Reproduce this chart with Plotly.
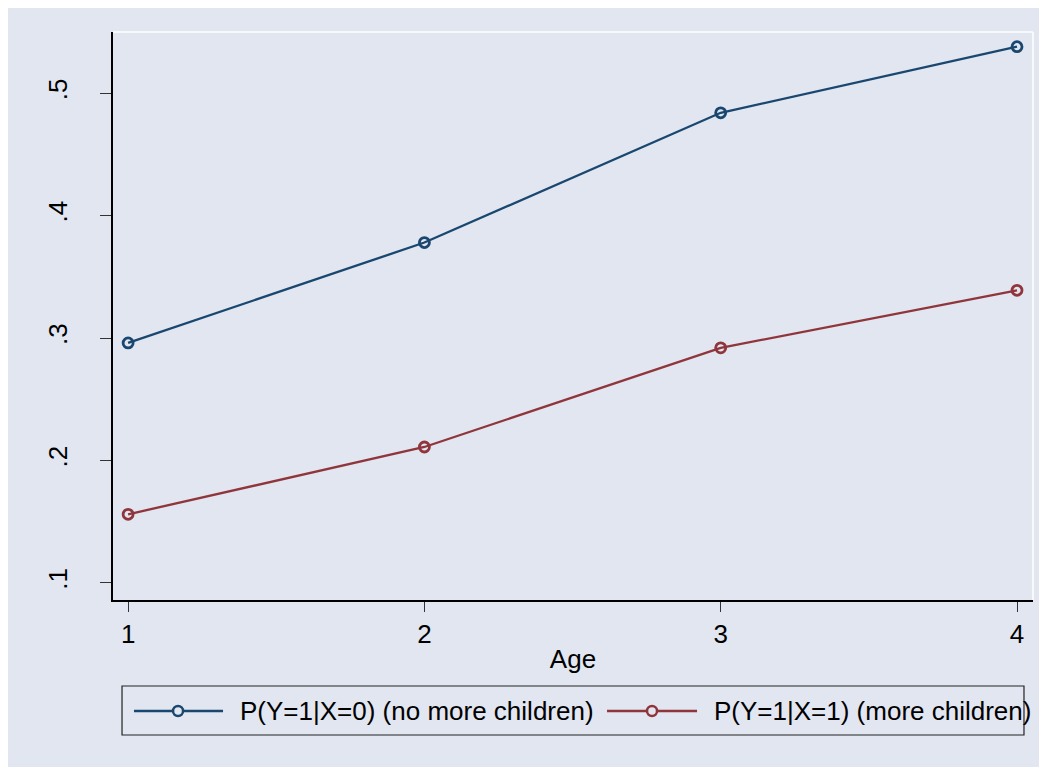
import plotly.graph_objects as go

age = [1, 2, 3, 4]
p_x0 = [0.296, 0.378, 0.484, 0.538]
p_x1 = [0.156, 0.211, 0.292, 0.339]
name_x0 = "P(Y=1|X=0) (no more children)"
name_x1 = "P(Y=1|X=1) (more children)"
ytick_vals = [0.1, 0.2, 0.3, 0.4, 0.5]
ytick_text = [".1", ".2", ".3", ".4", ".5"]
xtick_vals = [1, 2, 3, 4]

BG = "#e1e6f0"
BLUE = "#1a476f"
RED = "#90353b"
FONT = "Liberation Sans, Arial, sans-serif"
FS = 26

series = [(p_x0, name_x0, BLUE), (p_x1, name_x1, RED)]

fig = go.Figure()
for y, name, col in series:
    fig.add_trace(go.Scatter(
        x=age, y=y, name=name, mode="lines+markers", showlegend=False,
        line=dict(color=col, width=2.3),
        marker=dict(symbol="circle-open", size=10, color=col, line=dict(width=2.8, color=col)),
    ))

# custom legend (Stata-style) in paper coordinates
shapes = [
    dict(type="line", xref="paper", yref="paper", x0=0, x1=1, y0=1, y1=1,
         line=dict(color="white", width=1.5)),
    dict(type="line", xref="paper", yref="paper", x0=1, x1=1, y0=0, y1=1,
         line=dict(color="white", width=1.5)),
    dict(type="rect", xref="paper", yref="paper", x0=0.0098, x1=0.9902, y0=-0.2377, y1=-0.1514,
         line=dict(color="#222222", width=1.2), fillcolor=BG, layer="below"),
]
annotations = []
leg_y = -0.1954
leg_items = [(0.0228, 0.1196, 0.0707, 0.1359), (0.537, 0.6348, 0.5859, 0.6511)]
for (y, name, col), (lx0, lx1, mx, tx) in zip(series, leg_items):
    shapes.append(dict(type="line", xref="paper", yref="paper", x0=lx0, x1=lx1, y0=leg_y, y1=leg_y,
                       line=dict(color=col, width=2.3)))
    shapes.append(dict(type="circle", xref="paper", yref="paper", xsizemode="pixel", ysizemode="pixel",
                       xanchor=mx, yanchor=leg_y, x0=-5, x1=5, y0=-5, y1=5,
                       line=dict(color=col, width=2.5), fillcolor=BG))
    annotations.append(dict(xref="paper", yref="paper", x=tx, y=leg_y, xanchor="left", yanchor="middle",
                            text=name, showarrow=False, font=dict(size=FS, color="#000000")))

fig.update_layout(
    width=1039, height=759,
    margin=dict(l=105, r=14, t=24, b=167),
    paper_bgcolor=BG, plot_bgcolor=BG,
    font=dict(family=FONT, size=FS, color="#000000"),
    showlegend=False,
    xaxis=dict(
        range=[0.949, 4.054], tickvals=xtick_vals, showgrid=False, zeroline=False,
        showline=True, linecolor="#000000", linewidth=1.5,
        ticks="outside", ticklen=10, tickcolor="#333333",
        title=dict(text="Age", standoff=2, font=dict(size=FS)),
    ),
    yaxis=dict(
        range=[0.086, 0.550], tickvals=ytick_vals, ticktext=ytick_text,
        showgrid=False, zeroline=False, tickangle=-90,
        showline=True, linecolor="#000000", linewidth=1.5,
        ticks="outside", ticklen=11, tickcolor="#333333", ticklabelstandoff=23,
    ),
    shapes=shapes,
    annotations=annotations,
)

fig.write_html("out.html")
